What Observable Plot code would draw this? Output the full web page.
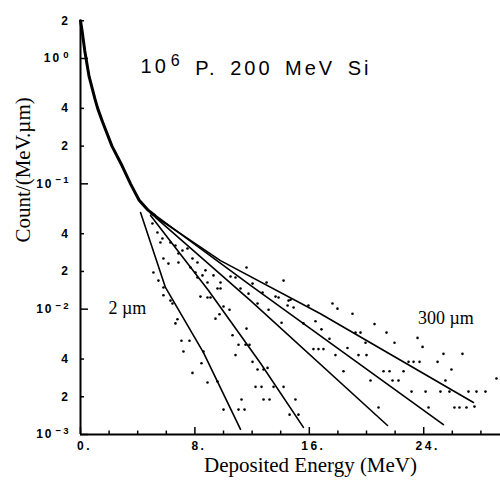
<!DOCTYPE html>
<html><head><meta charset="utf-8">
<script src="https://cdn.jsdelivr.net/npm/d3@7"></script>
<script src="https://cdn.jsdelivr.net/npm/@observablehq/plot@0.6"></script>
<style>body{margin:0;background:#fff} #chart svg{display:block}</style>
</head><body><div id="chart"></div>
<script>
// Common measured spectrum (all thicknesses overlap below ~5 MeV)
const curveE = [0, 0.1, 0.3, 0.6, 1.0, 1.2, 1.55, 2.2, 2.9, 3.5, 4.1, 4.7, 5.2];
const curveC = [2.0, 1.7, 1.15, 0.72, 0.48, 0.40, 0.31, 0.20, 0.14, 0.10, 0.074, 0.062, 0.056];

// Fitted tails, from thinnest (2 µm) to thickest (300 µm)
const fitNames = ["2 µm", "t2", "t3", "t4", "300 µm"];
const fitE = [
  [4.2, 5.94, 8.6, 11.19],
  [4.9, 8.95, 12.59, 15.59],
  [5.24, 11.89, 21.47],
  [5.24, 11.89, 25.38],
  [4.9, 9.79, 16.78, 27.48]
];
const fitC = [
  [0.059, 0.0149, 0.0045, 0.0011],
  [0.056, 0.0141, 0.0037, 0.00114],
  [0.054, 0.0117, 0.00118],
  [0.056, 0.0155, 0.0012],
  [0.058, 0.0244, 0.0092, 0.0018]
];

// Scattered measured points of the tails
const dotE = [5.10,5.45,5.80,5.80,6.29,6.43,6.64,6.78,7.06,7.62,7.20,8.60,8.46,7.83,8.88,9.58,10.0,11.05,11.47,11.26,
 5.03,5.38,5.73,5.59,6.29,6.64,6.85,7.13,7.48,6.85,7.83,8.18,7.69,8.04,8.74,8.53,8.88,9.30,9.79,9.58,8.18,5.80,6.15,
 8.39,8.88,9.09,10.0,10.42,9.72,9.44,11.61,10.63,11.05,11.54,11.82,10.84,12.03,12.38,12.80,13.08,12.24,12.66,12.80,13.22,13.50,
 11.75,12.38,13.15,9.79,10.49,10.84,11.61,12.03,11.19,12.73,13.64,13.85,14.69,14.48,15.94,
 14.20,13.01,14.55,14.90,16.43,17.62,17.97,19.02,19.23,19.58,20.56,16.85,14.06,17.41,16.29,16.64,16.99,18.67,17.83,19.44,20.0,
 18.39,20.28,20.84,14.20,15.03,14.62,15.24,15.59,
 21.40,21.96,23.57,23.92,25.38,26.71,22.94,23.29,23.71,24.97,25.94,21.19,21.61,22.59,29.09,25.52,21.82,22.24,
 23.15,24.13,25.17,25.80,27.13,27.69,28.32,24.34,26.15,26.50,26.99,27.55,19.93];
const dotC = [0.0196,0.0169,0.0149,0.0129,0.0117,0.0111,0.0077,0.0083,0.0056,0.0056,0.0046,0.0046,0.0037,0.0031,0.0026,0.00265,0.00158,0.00158,0.00158,0.0019,
 0.0483,0.0409,0.0366,0.034,0.034,0.0322,0.0278,0.0294,0.0305,0.0236,0.0254,0.0236,0.0215,0.0196,0.0204,0.0186,0.0163,0.0186,0.0163,0.0146,0.0179,0.0254,0.0231,
 0.0126,0.0124,0.0124,0.0105,0.0099,0.0091,0.0084,0.0070,0.0062,0.0052,0.0052,0.0052,0.0043,0.0038,0.0033,0.0033,0.0034,0.0024,0.0024,0.0019,0.0019,0.0024,
 0.0133,0.0111,0.0099,0.0146,0.0182,0.0179,0.0215,0.0160,0.0146,0.0136,0.0126,0.0124,0.0119,0.0107,0.0107,
 0.0169,0.0163,0.0117,0.0103,0.0080,0.0111,0.0101,0.0092,0.0065,0.0065,0.0076,0.0069,0.0078,0.0058,0.0048,0.0048,0.0048,0.0049,0.0043,0.0043,0.0043,
 0.0032,0.0027,0.00164,0.0024,0.0019,0.00144,0.00144,0.0077,
 0.0065,0.0054,0.0059,0.0050,0.0044,0.0044,0.0038,0.0038,0.0038,0.0038,0.0033,0.0032,0.0032,0.0032,0.0028,0.0027,0.0027,0.0027,
 0.0022,0.0022,0.0022,0.0022,0.0022,0.0022,0.0022,0.00164,0.00164,0.00164,0.00164,0.00167,0.0054];

// Axis ticks and labels
const yMajor = [1, 0.1, 0.01, 0.001];
const yMinor = [2, 0.4, 0.2, 0.04, 0.02, 0.004, 0.002];
const yLabelVals = [2, 1, 0.4, 0.2, 0.1, 0.04, 0.02, 0.01, 0.004, 0.002, 0.001];
const yLabelText = ["2", "10⁰", "4", "2", "10⁻¹", "4", "2", "10⁻²", "4", "2", "10⁻³"];
const xMajor = [0, 8, 16, 24];
const xMinor = [2, 4, 6, 10, 12, 14, 18, 20, 22, 26, 28];
const xLabelText = ["0.", "8.", "16.", "24."];

const curve = curveE.map((e, i) => ({E: e, C: curveC[i]}));
const fits = fitNames.flatMap((n, k) => fitE[k].map((e, i) => ({s: n, E: e, C: fitC[k][i]})));
const dots = dotE.map((e, i) => ({E: e, C: dotC[i]}));
const yLabels = yLabelVals.map((v, i) => ({v, t: yLabelText[i]}));
const xLabels = xMajor.map((v, i) => ({v, t: xLabelText[i]}));
const notes = [
  {t: "2 µm", E: 1.95, C: 0.0102},
  {t: "300 µm", E: 23.6, C: 0.0085}
];

const innerW = 420, innerH = 414;
const tickFont = {fontFamily: "Liberation Sans, Arial, sans-serif", fontWeight: "bold", fontSize: 12};

const chart = Plot.plot({
  width: 500, height: 484,
  marginLeft: 80, marginRight: 0, marginTop: 20, marginBottom: 50,
  x: {domain: [0, 29.37], axis: null},
  y: {type: "log", domain: [0.001, 2.01], axis: null},
  style: {background: "white", color: "black", overflow: "visible"},
  marks: [
    Plot.dot(dots, {x: "E", y: "C", r: 1.3, fill: "black", stroke: null}),
    Plot.line(fits, {x: "E", y: "C", z: "s", stroke: "black", strokeWidth: 1.6}),
    Plot.line(curve, {x: "E", y: "C", stroke: "black", strokeWidth: 3, curve: "linear"}),
    Plot.ruleX([0], {stroke: "black", strokeWidth: 2}),
    Plot.ruleY([0.001], {stroke: "black", strokeWidth: 2}),
    Plot.tickY(yMajor, {y: d => d, insetRight: innerW - 8, stroke: "black", strokeWidth: 1.5}),
    Plot.tickY(yMinor, {y: d => d, insetRight: innerW - 4, stroke: "black", strokeWidth: 1.5}),
    Plot.tickX(xMajor, {x: d => d, insetTop: innerH - 7, stroke: "black", strokeWidth: 1.5}),
    Plot.tickX(xMinor, {x: d => d, insetTop: innerH - 3.5, stroke: "black", strokeWidth: 1.5}),
    Plot.text(yLabels, {y: "v", text: "t", frameAnchor: "left", dx: -10, textAnchor: "end", ...tickFont}),
    Plot.text(xLabels, {x: "v", text: "t", frameAnchor: "bottom", dy: 15, dx: 4, ...tickFont}),
    Plot.text(notes, {x: "E", y: "C", text: "t", textAnchor: "start", fontFamily: "Liberation Serif, Times New Roman, serif", fontSize: 18}),
    Plot.text(["10⁶ P. 200 MeV Si"], {text: d => d, x: 4.2, y: 0.86, textAnchor: "start", fontFamily: "Liberation Sans, Arial, sans-serif", fontSize: 20}),
    Plot.text(["Deposited Energy (MeV)"], {text: d => d, frameAnchor: "bottom", dx: 20, dy: 37, fontFamily: "Liberation Serif, Times New Roman, serif", fontSize: 21}),
    Plot.text(["Count/(MeV.µm)"], {text: d => d, frameAnchor: "left", rotate: -90, dx: -57, dy: 15, fontFamily: "Liberation Serif, Times New Roman, serif", fontSize: 21})
  ]
});

// Render superscript exponents as raised tspans (visible text stays the same characters)
const supMap = {"⁰": "0", "¹": "1", "²": "2", "³": "3", "⁶": "6", "⁻": "−"};
chart.querySelectorAll("text").forEach(t => {
  const s = t.textContent;
  const m = s.match(/^10([⁰¹²³⁶⁻]+)(.*)$/);
  if (m) {
    const exp = [...m[1]].map(c => supMap[c]).join("");
    const ns = "http://www.w3.org/2000/svg";
    t.textContent = "10";
    const sup = document.createElementNS(ns, "tspan");
    sup.setAttribute("dy", "-0.45em");
    sup.setAttribute("dx", "2");
    sup.setAttribute("font-size", "80%");
    sup.textContent = exp;
    t.appendChild(sup);
    if (m[2]) {
      const rest = document.createElementNS(ns, "tspan");
      rest.setAttribute("dy", "0.45em");
      rest.textContent = m[2];
      t.appendChild(rest);
      t.style.letterSpacing = "3px"; t.style.wordSpacing = "4px";
    } else {
      t.style.letterSpacing = "2px";
    }
  } else if (/^[0-9.]+$/.test(s)) {
    t.style.letterSpacing = "2.5px";
  }
});
document.getElementById("chart").appendChild(chart);
</script>
</body></html>
